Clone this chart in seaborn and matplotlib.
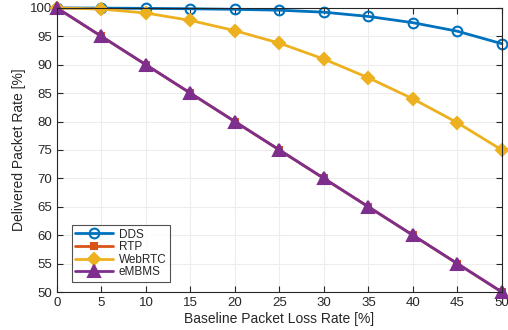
import numpy as np
import pandas as pd
import seaborn as sns
import matplotlib.pyplot as plt

# data
loss = [0, 5, 10, 15, 20, 25, 30, 35, 40, 45, 50]
dds = [100, 99.97, 99.92, 99.85, 99.75, 99.6, 99.25, 98.5, 97.4, 95.9, 93.7]
rtp = [100, 95, 90, 85, 80, 75, 70, 65, 60, 55, 50]
webrtc = [100, 99.8, 99.1, 97.8, 96.0, 93.8, 91.0, 87.7, 84.0, 79.8, 75.0]
embms = [100, 95, 90, 85, 80, 75, 70, 65, 60, 55, 50]
names = ['DDS', 'RTP', 'WebRTC', 'eMBMS']
colors = ['#0072BD', '#D95319', '#EDB120', '#7E2F8E']
markers = ['o', 's', 'D', '^']
msizes = [7, 4, 6, 8]

df = pd.DataFrame({'loss': loss * 4,
                   'rate': dds + rtp + webrtc + embms,
                   'proto': sum([[n] * len(loss) for n in names], [])})

sns.set_style('whitegrid')
plt.rcParams['font.family'] = ['Liberation Sans', 'DejaVu Sans']

fig = plt.figure(figsize=(5.08, 3.3), dpi=100)
ax = fig.add_axes([0.112, 0.115, 0.876, 0.861])

for n, c, m, ms in zip(names, colors, markers, msizes):
    sub = df[df['proto'] == n]
    face = 'none' if m == 'o' else c
    sns.lineplot(data=sub, x='loss', y='rate', ax=ax, color=c, marker=m,
                 markersize=ms, markerfacecolor=face,
                 markeredgecolor=c, markeredgewidth=1.5, linewidth=2, label=n,
                 clip_on=False)

ax.set_xlim(0, 50)
ax.set_ylim(50, 100)
ax.set_xticks(range(0, 51, 5))
ax.set_yticks(range(50, 101, 5))
ax.tick_params(labelsize=9.5, colors='#262626', direction='in', length=4,
               top=True, right=True, bottom=True, left=True,
               labeltop=False, labelright=False)
ax.grid(True, color='#ededed', linewidth=0.8)
for s in ax.spines.values():
    s.set_color('#262626')
    s.set_linewidth(0.8)
ax.set_xlabel('Baseline Packet Loss Rate [%]', fontsize=10, color='#262626', labelpad=2)
ax.set_ylabel('Delivered Packet Rate [%]', fontsize=10, color='#262626', labelpad=3)

leg = ax.legend(loc='lower left', bbox_to_anchor=(0.02, 0.015), fontsize=8.5,
                frameon=True, fancybox=False, edgecolor='#262626',
                borderpad=0.3, labelspacing=0.05, handlelength=3.2,
                handletextpad=0.5)
leg.get_frame().set_linewidth(0.8)

fig.savefig('out.png', dpi=100)
